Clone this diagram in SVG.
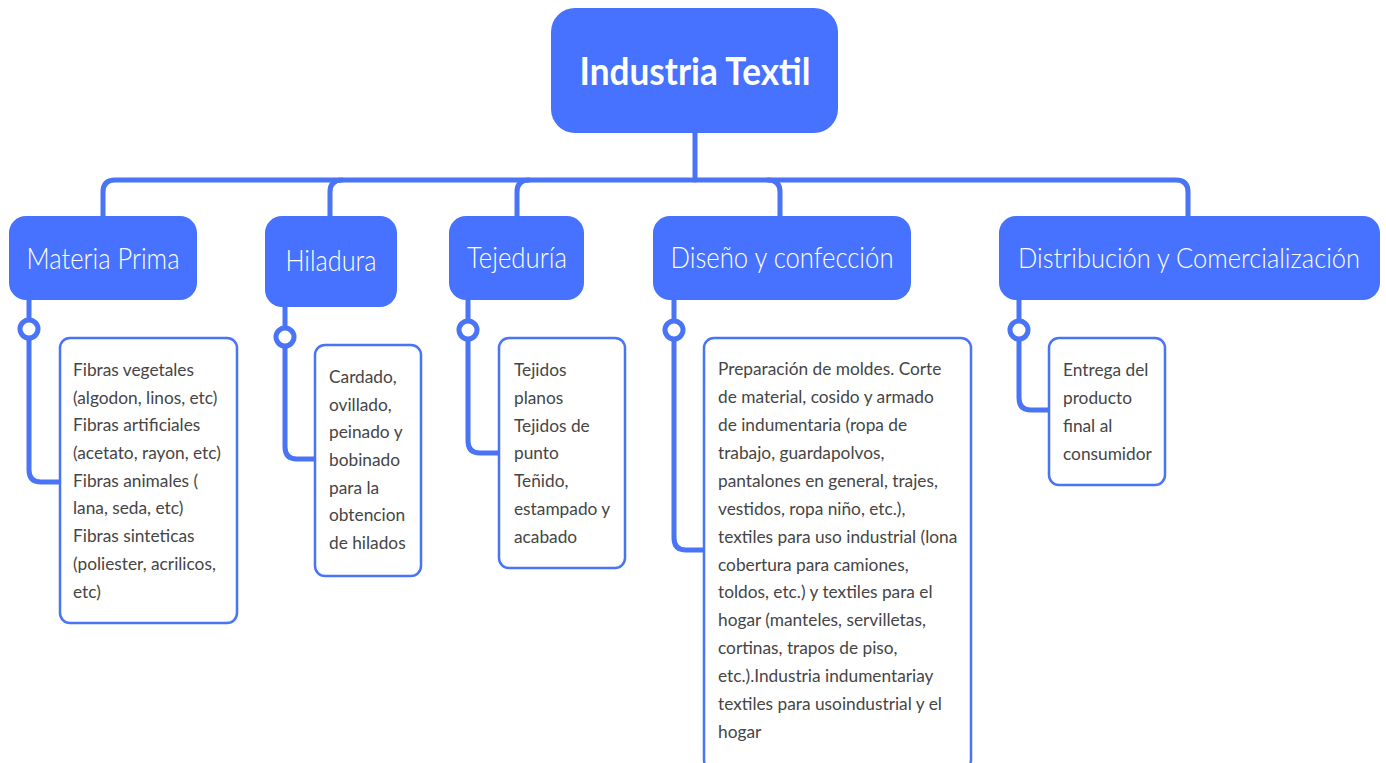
<svg xmlns="http://www.w3.org/2000/svg" width="1386" height="763" viewBox="0 0 1386 763">
<style>
.main{fill:#4672ff;}
.title{font-family:Lato,"Liberation Sans",sans-serif;fill:#fff;font-size:29px;font-weight:300;text-anchor:middle;}
.root{font-family:Lato,"Liberation Sans",sans-serif;fill:#fff;font-size:38px;font-weight:bold;text-anchor:middle;}
.sub{fill:#fff;stroke:#4a74f6;stroke-width:2.5;}
.txt{font-family:Lato,"Liberation Sans",sans-serif;fill:#454545;font-size:17.3px;}
.con{fill:none;stroke:#4a74f6;stroke-width:5;stroke-linecap:round;}
.dot{fill:#fff;stroke:#4a74f6;stroke-width:5;}
</style>
<rect width="1386" height="763" fill="#fff"/>
<g id="connectors">
<path class="con" d="M695,133 V180"/>
<path class="con" d="M103,216 V192 Q103,180 115,180 H1176 Q1188,180 1188,192 V216"/>
<path class="con" d="M330,216 V192 Q330,180 342,180"/>
<path class="con" d="M517,216 V192 Q517,180 529,180"/>
<path class="con" d="M780,216 V192 Q780,180 768,180"/>
<path class="con" d="M29,300 V470 Q29,482 41,482 H60"/>
<path class="con" d="M285,307 V447 Q285,459 297,459 H315"/>
<path class="con" d="M468,300 V441 Q468,453 480,453 H499"/>
<path class="con" d="M674,300 V538 Q674,550 686,550 H704"/>
<path class="con" d="M1019,300 V398 Q1019,410 1031,410 H1049"/>
<circle class="dot" cx="29" cy="329" r="9"/>
<circle class="dot" cx="285" cy="337" r="9"/>
<circle class="dot" cx="468" cy="330" r="9"/>
<circle class="dot" cx="674" cy="330" r="9"/>
<circle class="dot" cx="1019" cy="330" r="9"/>
</g>
<g id="root">
<rect class="main" x="551" y="8" width="287" height="125" rx="24"/>
<text class="root" x="695" y="85" textLength="231" lengthAdjust="spacingAndGlyphs">Industria Textil</text>
</g>
<g id="materia-prima">
<rect class="main" x="9" y="216" width="188" height="84" rx="17"/>
<text class="title" x="103" y="269" textLength="153" lengthAdjust="spacingAndGlyphs">Materia Prima</text>
</g>
<g id="hiladura">
<rect class="main" x="265" y="216" width="132" height="91" rx="17"/>
<text class="title" x="331" y="271" textLength="91" lengthAdjust="spacingAndGlyphs">Hiladura</text>
</g>
<g id="tejeduria">
<rect class="main" x="449" y="216" width="135" height="84" rx="17"/>
<text class="title" x="517" y="268" textLength="100" lengthAdjust="spacingAndGlyphs">Tejeduría</text>
</g>
<g id="diseno">
<rect class="main" x="653" y="216" width="258" height="84" rx="17"/>
<text class="title" x="782" y="268" textLength="223" lengthAdjust="spacingAndGlyphs">Diseño y confección</text>
</g>
<g id="distribucion">
<rect class="main" x="999" y="216" width="381" height="84" rx="17"/>
<text class="title" x="1189" y="268" style="font-size:27px" textLength="342" lengthAdjust="spacingAndGlyphs">Distribución y Comercialización</text>
</g>
<g id="materia-detalle">
<rect class="sub" x="60" y="338" width="177" height="285" rx="10"/>
<text class="txt" x="73">
<tspan x="73" y="376">Fibras vegetales</tspan>
<tspan x="73" y="404">(algodon, linos, etc)</tspan>
<tspan x="73" y="431">Fibras artificiales</tspan>
<tspan x="73" y="459">(acetato, rayon, etc)</tspan>
<tspan x="73" y="487">Fibras animales (</tspan>
<tspan x="73" y="514">lana, seda, etc)</tspan>
<tspan x="73" y="542">Fibras sinteticas</tspan>
<tspan x="73" y="570">(poliester, acrilicos,</tspan>
<tspan x="73" y="598">etc)</tspan>
</text>
</g>
<g id="hiladura-detalle">
<rect class="sub" x="315" y="345" width="106" height="231" rx="10"/>
<text class="txt">
<tspan x="329" y="383">Cardado,</tspan>
<tspan x="329" y="411">ovillado,</tspan>
<tspan x="329" y="438">peinado y</tspan>
<tspan x="329" y="466">bobinado</tspan>
<tspan x="329" y="494">para la</tspan>
<tspan x="329" y="521">obtencion</tspan>
<tspan x="329" y="549">de hilados</tspan>
</text>
</g>
<g id="tejeduria-detalle">
<rect class="sub" x="499" y="338" width="126" height="230" rx="10"/>
<text class="txt">
<tspan x="514" y="376">Tejidos</tspan>
<tspan x="514" y="404">planos</tspan>
<tspan x="514" y="432">Tejidos de</tspan>
<tspan x="514" y="459">punto</tspan>
<tspan x="514" y="487">Teñido,</tspan>
<tspan x="514" y="515">estampado y</tspan>
<tspan x="514" y="543">acabado</tspan>
</text>
</g>
<g id="diseno-detalle">
<rect class="sub" x="704" y="338" width="267" height="432" rx="10"/>
<text class="txt">
<tspan x="718" y="375">Preparación de moldes. Corte</tspan>
<tspan x="718" y="403">de material, cosido y armado</tspan>
<tspan x="718" y="431">de indumentaria (ropa de</tspan>
<tspan x="718" y="459">trabajo, guardapolvos,</tspan>
<tspan x="718" y="487">pantalones en general, trajes,</tspan>
<tspan x="718" y="515">vestidos, ropa niño, etc.),</tspan>
<tspan x="718" y="543">textiles para uso industrial (lona</tspan>
<tspan x="718" y="571">cobertura para camiones,</tspan>
<tspan x="718" y="598">toldos, etc.) y textiles para el</tspan>
<tspan x="718" y="626">hogar (manteles, servilletas,</tspan>
<tspan x="718" y="654">cortinas, trapos de piso,</tspan>
<tspan x="718" y="682">etc.).Industria indumentariay</tspan>
<tspan x="718" y="710">textiles para usoindustrial y el</tspan>
<tspan x="718" y="738">hogar</tspan>
</text>
</g>
<g id="distribucion-detalle">
<rect class="sub" x="1049" y="338" width="116" height="147" rx="10"/>
<text class="txt">
<tspan x="1063" y="376">Entrega del</tspan>
<tspan x="1063" y="404">producto</tspan>
<tspan x="1063" y="432">final al</tspan>
<tspan x="1063" y="460">consumidor</tspan>
</text>
</g>
</svg>
